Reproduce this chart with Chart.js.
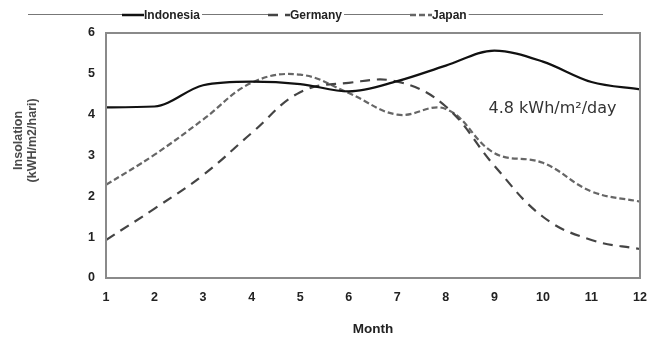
<!DOCTYPE html>
<html>
<head>
<meta charset="utf-8">
<script src="https://cdn.jsdelivr.net/npm/chart.js@4/dist/chart.umd.min.js"></script>
<style>
  html, body { margin: 0; padding: 0; background: #fff; }
  #wrap { width: 648px; height: 341px; }
</style>
</head>
<body>
<div id="wrap"><canvas id="chart" width="648" height="341"></canvas></div>
<script>
// monthly insolation values
const months = [1, 2, 3, 4, 5, 6, 7, 8, 9, 10, 11, 12];
const indonesia = [4.18, 4.2, 4.72, 4.81, 4.75, 4.57, 4.82, 5.2, 5.57, 5.3, 4.8, 4.62];
const germany = [0.93, 1.7, 2.52, 3.55, 4.55, 4.78, 4.81, 4.2, 2.75, 1.5, 0.93, 0.71];
const japan = [2.28, 3.02, 3.88, 4.78, 4.98, 4.53, 4.0, 4.14, 3.06, 2.82, 2.12, 1.87];
const yTicks = [0, 1, 2, 3, 4, 5, 6];
const yTitle = ["Insolation", "(kWH/m2/hari)"];
const note = "4.8 kWh/m\u00b2/day";

const axisGray = "#8a8a8a";
const labelFont = { family: "'Liberation Sans', Arial, sans-serif", size: 12, weight: "bold" };

// legend across the top with a grey rule behind it, plus note, y title and frame
const topLegend = {
    id: "topLegend",
    afterDraw(chart) {
        const ctx = chart.ctx;
        ctx.save();
        ctx.strokeStyle = "#777";
        ctx.lineWidth = 1;
        ctx.setLineDash([]);
        ctx.beginPath();
        ctx.moveTo(28, 14.5);
        ctx.lineTo(603, 14.5);
        ctx.stroke();
        const items = [
            { ds: 0, x: 122 },
            { ds: 1, x: 268 },
            { ds: 2, x: 410 }
        ];
        ctx.font = "bold 12px 'Liberation Sans', Arial, sans-serif";
        items.forEach((it) => {
            const ds = chart.data.datasets[it.ds];
            const w = ctx.measureText(ds.label).width;
            ctx.fillStyle = "#fff";
            ctx.fillRect(it.x, 7, w + 24, 15);
            ctx.strokeStyle = ds.borderColor;
            ctx.lineWidth = 2.5;
            ctx.setLineDash(ds.borderDash || []);
            ctx.beginPath();
            ctx.moveTo(it.x, 15);
            ctx.lineTo(it.x + 22, 15);
            ctx.stroke();
            ctx.setLineDash([]);
            ctx.fillStyle = "#222";
            ctx.textBaseline = "middle";
            ctx.textAlign = "left";
            ctx.fillText(ds.label, it.x + 22, 16);
        });
        // value note inside the plot
        const xs = chart.scales.x, ys = chart.scales.y;
        ctx.font = "16px 'DejaVu Sans', Verdana, sans-serif";
        ctx.fillStyle = "#333";
        ctx.textAlign = "left";
        ctx.textBaseline = "middle";
        ctx.fillText(note, xs.getPixelForValue(8.88), ys.getPixelForValue(4.14));
        // y axis title, sits a little above the axis middle
        ctx.translate(26, ys.getPixelForValue(3.37));
        ctx.rotate(-Math.PI / 2);
        ctx.font = "bold 12.5px 'Liberation Sans', Arial, sans-serif";
        ctx.fillStyle = "#4a4a4a";
        ctx.textAlign = "center";
        ctx.fillText(yTitle[0], 0, -7);
        ctx.fillText(yTitle[1], 0, 7);
        ctx.setTransform(1, 0, 0, 1, 0, 0);
        // box around plot
        const a = chart.chartArea;
        ctx.strokeStyle = axisGray;
        ctx.lineWidth = 2;
        ctx.strokeRect(a.left, a.top, a.right - a.left, a.bottom - a.top);
        ctx.restore();
    }
};

new Chart(document.getElementById("chart"), {
    type: "line",
    data: {
        labels: months,
        datasets: [{
            label: "Indonesia",
            data: indonesia,
            borderColor: "#111",
            borderWidth: 2.2,
            pointRadius: 0,
            cubicInterpolationMode: "monotone"
        }, {
            label: "Germany",
            data: germany,
            borderColor: "#444",
            borderDash: [10, 7],
            borderWidth: 2.2,
            pointRadius: 0,
            tension: 0.4
        }, {
            label: "Japan",
            data: japan,
            borderColor: "#666",
            borderDash: [6, 3],
            borderWidth: 2.2,
            pointRadius: 0,
            tension: 0.4
        }]
    },
    options: {
        responsive: false,
        animation: false,
        layout: { padding: { left: 0, right: 8, top: 33, bottom: 0 } },
        plugins: { legend: { display: false }, tooltip: { enabled: false } },
        scales: {
            x: {
                type: "linear",
                min: 1,
                max: 12,
                afterBuildTicks: (s) => { s.ticks = months.map((v) => ({ value: v })); },
                afterFit: (s) => { s.height = 63; s.paddingRight = 0; s.paddingLeft = 0; },
                grid: { display: false, drawTicks: true, tickLength: 4, tickColor: axisGray },
                border: { color: axisGray, width: 2 },
                ticks: { color: "#222", font: { ...labelFont, size: 12.5 }, padding: 8, maxRotation: 0 },
                title: { display: true, text: "Month", color: "#222", font: { ...labelFont, size: 13.5 }, padding: { top: 7 } }
            },
            y: {
                min: 0,
                max: 6,
                afterBuildTicks: (s) => { s.ticks = yTicks.map((v) => ({ value: v })); },
                afterFit: (s) => { s.width = 106; s.paddingTop = 0; s.paddingBottom = 0; },
                grid: { display: false, drawTicks: true, tickLength: 5, tickColor: axisGray },
                border: { color: axisGray, width: 2 },
                ticks: { color: "#222", font: { ...labelFont, size: 12.5 }, padding: 6 }
            }
        }
    },
    plugins: [topLegend]
});
</script>
</body>
</html>
